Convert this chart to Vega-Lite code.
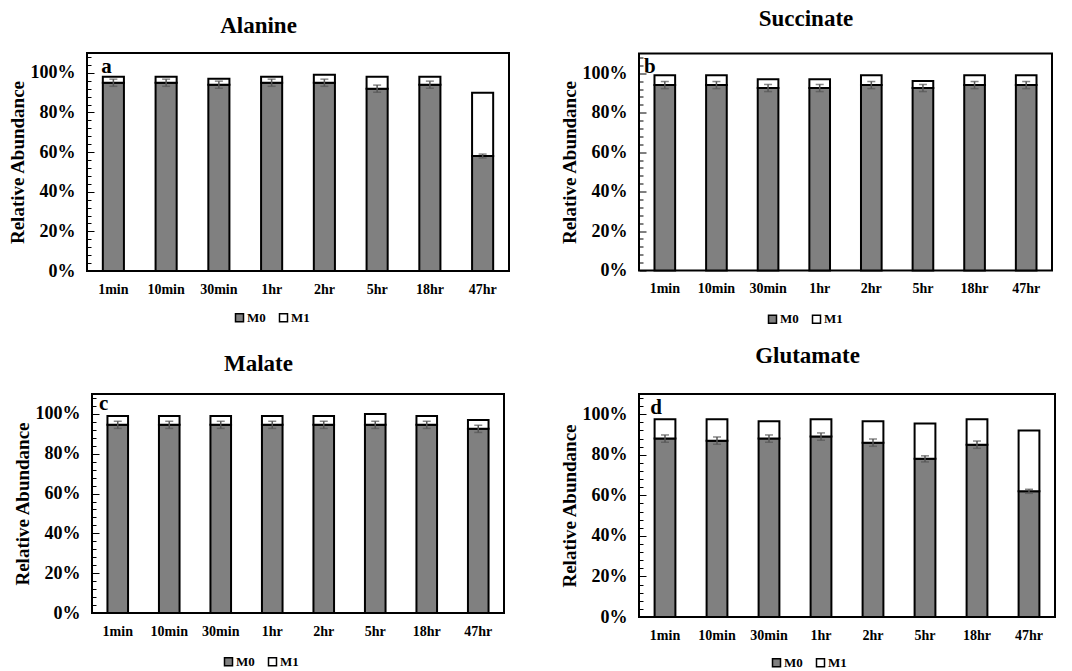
{
  "$schema": "https://vega.github.io/schema/vega-lite/v6.json",
  "background": "white",
  "padding": {"left": 7, "top": 6, "right": 5, "bottom": 3},
  "datasets": {
    "bars": [
      {"met":"Alanine","time":"1min","iso":"M0","v":0.95},{"met":"Alanine","time":"1min","iso":"M1","v":0.03},
      {"met":"Alanine","time":"10min","iso":"M0","v":0.95},{"met":"Alanine","time":"10min","iso":"M1","v":0.03},
      {"met":"Alanine","time":"30min","iso":"M0","v":0.94},{"met":"Alanine","time":"30min","iso":"M1","v":0.03},
      {"met":"Alanine","time":"1hr","iso":"M0","v":0.95},{"met":"Alanine","time":"1hr","iso":"M1","v":0.03},
      {"met":"Alanine","time":"2hr","iso":"M0","v":0.95},{"met":"Alanine","time":"2hr","iso":"M1","v":0.04},
      {"met":"Alanine","time":"5hr","iso":"M0","v":0.92},{"met":"Alanine","time":"5hr","iso":"M1","v":0.06},
      {"met":"Alanine","time":"18hr","iso":"M0","v":0.94},{"met":"Alanine","time":"18hr","iso":"M1","v":0.04},
      {"met":"Alanine","time":"47hr","iso":"M0","v":0.58},{"met":"Alanine","time":"47hr","iso":"M1","v":0.32},
      {"met":"Succinate","time":"1min","iso":"M0","v":0.94},{"met":"Succinate","time":"1min","iso":"M1","v":0.05},
      {"met":"Succinate","time":"10min","iso":"M0","v":0.94},{"met":"Succinate","time":"10min","iso":"M1","v":0.05},
      {"met":"Succinate","time":"30min","iso":"M0","v":0.925},{"met":"Succinate","time":"30min","iso":"M1","v":0.045},
      {"met":"Succinate","time":"1hr","iso":"M0","v":0.925},{"met":"Succinate","time":"1hr","iso":"M1","v":0.045},
      {"met":"Succinate","time":"2hr","iso":"M0","v":0.94},{"met":"Succinate","time":"2hr","iso":"M1","v":0.05},
      {"met":"Succinate","time":"5hr","iso":"M0","v":0.925},{"met":"Succinate","time":"5hr","iso":"M1","v":0.035},
      {"met":"Succinate","time":"18hr","iso":"M0","v":0.94},{"met":"Succinate","time":"18hr","iso":"M1","v":0.05},
      {"met":"Succinate","time":"47hr","iso":"M0","v":0.94},{"met":"Succinate","time":"47hr","iso":"M1","v":0.05},
      {"met":"Malate","time":"1min","iso":"M0","v":0.945},{"met":"Malate","time":"1min","iso":"M1","v":0.045},
      {"met":"Malate","time":"10min","iso":"M0","v":0.945},{"met":"Malate","time":"10min","iso":"M1","v":0.045},
      {"met":"Malate","time":"30min","iso":"M0","v":0.945},{"met":"Malate","time":"30min","iso":"M1","v":0.045},
      {"met":"Malate","time":"1hr","iso":"M0","v":0.945},{"met":"Malate","time":"1hr","iso":"M1","v":0.045},
      {"met":"Malate","time":"2hr","iso":"M0","v":0.945},{"met":"Malate","time":"2hr","iso":"M1","v":0.045},
      {"met":"Malate","time":"5hr","iso":"M0","v":0.945},{"met":"Malate","time":"5hr","iso":"M1","v":0.055},
      {"met":"Malate","time":"18hr","iso":"M0","v":0.945},{"met":"Malate","time":"18hr","iso":"M1","v":0.045},
      {"met":"Malate","time":"47hr","iso":"M0","v":0.925},{"met":"Malate","time":"47hr","iso":"M1","v":0.045},
      {"met":"Glutamate","time":"1min","iso":"M0","v":0.88},{"met":"Glutamate","time":"1min","iso":"M1","v":0.095},
      {"met":"Glutamate","time":"10min","iso":"M0","v":0.87},{"met":"Glutamate","time":"10min","iso":"M1","v":0.105},
      {"met":"Glutamate","time":"30min","iso":"M0","v":0.88},{"met":"Glutamate","time":"30min","iso":"M1","v":0.085},
      {"met":"Glutamate","time":"1hr","iso":"M0","v":0.89},{"met":"Glutamate","time":"1hr","iso":"M1","v":0.085},
      {"met":"Glutamate","time":"2hr","iso":"M0","v":0.86},{"met":"Glutamate","time":"2hr","iso":"M1","v":0.105},
      {"met":"Glutamate","time":"5hr","iso":"M0","v":0.78},{"met":"Glutamate","time":"5hr","iso":"M1","v":0.175},
      {"met":"Glutamate","time":"18hr","iso":"M0","v":0.85},{"met":"Glutamate","time":"18hr","iso":"M1","v":0.125},
      {"met":"Glutamate","time":"47hr","iso":"M0","v":0.62},{"met":"Glutamate","time":"47hr","iso":"M1","v":0.30}
    ],
    "errs": [
      {"met":"Alanine","time":"1min","lo":0.932,"hi":0.968},{"met":"Alanine","time":"10min","lo":0.932,"hi":0.968},
      {"met":"Alanine","time":"30min","lo":0.922,"hi":0.958},{"met":"Alanine","time":"1hr","lo":0.932,"hi":0.968},
      {"met":"Alanine","time":"2hr","lo":0.932,"hi":0.968},{"met":"Alanine","time":"5hr","lo":0.902,"hi":0.938},
      {"met":"Alanine","time":"18hr","lo":0.922,"hi":0.958},{"met":"Alanine","time":"47hr","lo":0.57,"hi":0.59},
      {"met":"Succinate","time":"1min","lo":0.922,"hi":0.958},{"met":"Succinate","time":"10min","lo":0.922,"hi":0.958},
      {"met":"Succinate","time":"30min","lo":0.907,"hi":0.943},{"met":"Succinate","time":"1hr","lo":0.907,"hi":0.943},
      {"met":"Succinate","time":"2hr","lo":0.922,"hi":0.958},{"met":"Succinate","time":"5hr","lo":0.907,"hi":0.943},
      {"met":"Succinate","time":"18hr","lo":0.922,"hi":0.958},{"met":"Succinate","time":"47hr","lo":0.922,"hi":0.958},
      {"met":"Malate","time":"1min","lo":0.927,"hi":0.963},{"met":"Malate","time":"10min","lo":0.927,"hi":0.963},
      {"met":"Malate","time":"30min","lo":0.927,"hi":0.963},{"met":"Malate","time":"1hr","lo":0.927,"hi":0.963},
      {"met":"Malate","time":"2hr","lo":0.927,"hi":0.963},{"met":"Malate","time":"5hr","lo":0.927,"hi":0.963},
      {"met":"Malate","time":"18hr","lo":0.927,"hi":0.963},{"met":"Malate","time":"47hr","lo":0.907,"hi":0.943},
      {"met":"Glutamate","time":"1min","lo":0.862,"hi":0.898},{"met":"Glutamate","time":"10min","lo":0.852,"hi":0.888},
      {"met":"Glutamate","time":"30min","lo":0.862,"hi":0.898},{"met":"Glutamate","time":"1hr","lo":0.872,"hi":0.908},
      {"met":"Glutamate","time":"2hr","lo":0.842,"hi":0.878},{"met":"Glutamate","time":"5hr","lo":0.765,"hi":0.795},
      {"met":"Glutamate","time":"18hr","lo":0.832,"hi":0.868},{"met":"Glutamate","time":"47hr","lo":0.61,"hi":0.63}
    ]
  },
  "bounds": "flush",
  "center": true,
  "columns": 2,
  "spacing": {"row": 123, "column": 130},
  "resolve": {"scale": {"color": "independent"}, "legend": {"color": "independent"}},
  "concat": [
    {
      "width": 422, "height": 218,
      "title": {"text": "Alanine", "frame": "bounds", "anchor": "middle", "offset": 15, "font": "Liberation Serif", "fontSize": 23, "fontWeight": "bold", "color": "black"},
      "resolve": {"axis": {"y": "independent"}},
      "layer": [
        {
          "data": {"name": "bars"},
          "transform": [{"filter": "datum.met === 'Alanine'"}],
          "mark": {"type": "bar", "stroke": "black", "strokeWidth": 2},
          "encoding": {
            "x": {"field": "time", "type": "nominal", "sort": ["1min","10min","30min","1hr","2hr","5hr","18hr","47hr"],
              "scale": {"domain": ["1min","10min","30min","1hr","2hr","5hr","18hr","47hr"], "paddingInner": 0.6, "paddingOuter": 0.3},
              "axis": {"title": null, "labelAngle": 0, "ticks": false, "domain": false, "labelFont": "Liberation Serif", "labelFontSize": 14, "labelFontWeight": "bold", "labelColor": "black", "labelPadding": 11}},
            "y": {"field": "v", "type": "quantitative", "stack": "zero",
              "scale": {"domain": [0, 1.1], "nice": false, "zero": true},
              "axis": {"title": "Relative Abundance", "titleFont": "Liberation Serif", "titleFontSize": 19, "titleFontWeight": "bold", "titleColor": "black", "titlePadding": 3,
                "values": [0,0.2,0.4,0.6,0.8,1], "format": ".0%",
                "labelFont": "Liberation Serif", "labelFontSize": 18, "labelFontWeight": "bold", "labelColor": "black", "labelPadding": 19,
                "tickSize": -7, "tickColor": "black", "tickWidth": 1, "domain": false, "grid": false}},
            "color": {"field": "iso", "type": "nominal", "scale": {"domain": ["M0","M1"], "range": ["#808080","#ffffff"]},
              "legend": {"orient": "none", "legendX": 146, "legendY": 258, "direction": "horizontal", "title": null, "symbolType": "square", "symbolSize": 64, "symbolStrokeColor": "black", "symbolStrokeWidth": 1.5, "labelFont": "Liberation Serif", "labelFontSize": 13, "labelFontWeight": "bold", "labelColor": "black", "labelOffset": 1, "columnPadding": 10}},
            "order": {"field": "iso", "sort": "ascending"}
          }
        },
        {
          "data": {"name": "errs"},
          "transform": [{"filter": "datum.met === 'Alanine'"}],
          "mark": {"type": "errorbar", "ticks": {"size": 8}, "color": "#555555", "thickness": 1.5},
          "encoding": {
            "x": {"field": "time", "type": "nominal", "sort": ["1min","10min","30min","1hr","2hr","5hr","18hr","47hr"]},
            "y": {"field": "lo", "type": "quantitative",
              "axis": {"orient": "left", "title": null, "labels": false, "values": [0.04,0.08,0.12,0.16,0.24,0.28,0.32,0.36,0.44,0.48,0.52,0.56,0.64,0.68,0.72,0.76,0.84,0.88,0.92,0.96,1.04,1.08], "tickSize": -4, "tickColor": "black", "tickWidth": 1, "domain": false, "grid": false}},
            "y2": {"field": "hi"}
          }
        },
        {
          "data": {"values": [{"lab": "a"}]},
          "mark": {"type": "text", "align": "center", "baseline": "alphabetic", "font": "Liberation Serif", "fontSize": 21, "fontWeight": "bold", "color": "black", "dx": -7},
          "encoding": {
            "x": {"datum": "1min", "type": "nominal"},
            "y": {"datum": 1.0, "type": "quantitative", "axis": null},
            "text": {"field": "lab"}
          }
        }
      ]
    },
    {
      "width": 413, "height": 217,
      "title": {"text": "Succinate", "frame": "bounds", "anchor": "middle", "offset": 23, "font": "Liberation Serif", "fontSize": 23, "fontWeight": "bold", "color": "black"},
      "resolve": {"axis": {"y": "independent"}},
      "layer": [
        {
          "data": {"name": "bars"},
          "transform": [{"filter": "datum.met === 'Succinate'"}],
          "mark": {"type": "bar", "stroke": "black", "strokeWidth": 2},
          "encoding": {
            "x": {"field": "time", "type": "nominal", "sort": ["1min","10min","30min","1hr","2hr","5hr","18hr","47hr"],
              "scale": {"domain": ["1min","10min","30min","1hr","2hr","5hr","18hr","47hr"], "paddingInner": 0.6, "paddingOuter": 0.3},
              "axis": {"title": null, "labelAngle": 0, "ticks": false, "domain": false, "labelFont": "Liberation Serif", "labelFontSize": 14, "labelFontWeight": "bold", "labelColor": "black", "labelPadding": 11}},
            "y": {"field": "v", "type": "quantitative", "stack": "zero",
              "scale": {"domain": [0, 1.1], "nice": false, "zero": true},
              "axis": {"title": "Relative Abundance", "titleFont": "Liberation Serif", "titleFontSize": 19, "titleFontWeight": "bold", "titleColor": "black", "titlePadding": 3,
                "values": [0,0.2,0.4,0.6,0.8,1], "format": ".0%",
                "labelFont": "Liberation Serif", "labelFontSize": 18, "labelFontWeight": "bold", "labelColor": "black", "labelPadding": 19,
                "tickSize": -7, "tickColor": "black", "tickWidth": 1, "domain": false, "grid": false}},
            "color": {"field": "iso", "type": "nominal", "scale": {"domain": ["M0","M1"], "range": ["#808080","#ffffff"]},
              "legend": {"orient": "none", "legendX": 127, "legendY": 259, "direction": "horizontal", "title": null, "symbolType": "square", "symbolSize": 64, "symbolStrokeColor": "black", "symbolStrokeWidth": 1.5, "labelFont": "Liberation Serif", "labelFontSize": 13, "labelFontWeight": "bold", "labelColor": "black", "labelOffset": 1, "columnPadding": 10}},
            "order": {"field": "iso", "sort": "ascending"}
          }
        },
        {
          "data": {"name": "errs"},
          "transform": [{"filter": "datum.met === 'Succinate'"}],
          "mark": {"type": "errorbar", "ticks": {"size": 8}, "color": "#555555", "thickness": 1.5},
          "encoding": {
            "x": {"field": "time", "type": "nominal", "sort": ["1min","10min","30min","1hr","2hr","5hr","18hr","47hr"]},
            "y": {"field": "lo", "type": "quantitative",
              "axis": {"orient": "left", "title": null, "labels": false, "values": [0.04,0.08,0.12,0.16,0.24,0.28,0.32,0.36,0.44,0.48,0.52,0.56,0.64,0.68,0.72,0.76,0.84,0.88,0.92,0.96,1.04,1.08], "tickSize": -4, "tickColor": "black", "tickWidth": 1, "domain": false, "grid": false}},
            "y2": {"field": "hi"}
          }
        },
        {
          "data": {"values": [{"lab": "b"}]},
          "mark": {"type": "text", "align": "center", "baseline": "alphabetic", "font": "Liberation Serif", "fontSize": 21, "fontWeight": "bold", "color": "black", "dx": -15},
          "encoding": {
            "x": {"datum": "1min", "type": "nominal"},
            "y": {"datum": 1.0, "type": "quantitative", "axis": null},
            "text": {"field": "lab"}
          }
        }
      ]
    },
    {
      "width": 412, "height": 219,
      "title": {"text": "Malate", "frame": "bounds", "anchor": "middle", "offset": 17, "font": "Liberation Serif", "fontSize": 23, "fontWeight": "bold", "color": "black"},
      "resolve": {"axis": {"y": "independent"}},
      "layer": [
        {
          "data": {"name": "bars"},
          "transform": [{"filter": "datum.met === 'Malate'"}],
          "mark": {"type": "bar", "stroke": "black", "strokeWidth": 2},
          "encoding": {
            "x": {"field": "time", "type": "nominal", "sort": ["1min","10min","30min","1hr","2hr","5hr","18hr","47hr"],
              "scale": {"domain": ["1min","10min","30min","1hr","2hr","5hr","18hr","47hr"], "paddingInner": 0.6, "paddingOuter": 0.3},
              "axis": {"title": null, "labelAngle": 0, "ticks": false, "domain": false, "labelFont": "Liberation Serif", "labelFontSize": 14, "labelFontWeight": "bold", "labelColor": "black", "labelPadding": 11}},
            "y": {"field": "v", "type": "quantitative", "stack": "zero",
              "scale": {"domain": [0, 1.1], "nice": false, "zero": true},
              "axis": {"title": "Relative Abundance", "titleFont": "Liberation Serif", "titleFontSize": 19, "titleFontWeight": "bold", "titleColor": "black", "titlePadding": 3,
                "values": [0,0.2,0.4,0.6,0.8,1], "format": ".0%",
                "labelFont": "Liberation Serif", "labelFontSize": 18, "labelFontWeight": "bold", "labelColor": "black", "labelPadding": 19,
                "tickSize": -7, "tickColor": "black", "tickWidth": 1, "domain": false, "grid": false}},
            "color": {"field": "iso", "type": "nominal", "scale": {"domain": ["M0","M1"], "range": ["#808080","#ffffff"]},
              "legend": {"orient": "none", "legendX": 130, "legendY": 261, "direction": "horizontal", "title": null, "symbolType": "square", "symbolSize": 64, "symbolStrokeColor": "black", "symbolStrokeWidth": 1.5, "labelFont": "Liberation Serif", "labelFontSize": 13, "labelFontWeight": "bold", "labelColor": "black", "labelOffset": 1, "columnPadding": 10}},
            "order": {"field": "iso", "sort": "ascending"}
          }
        },
        {
          "data": {"name": "errs"},
          "transform": [{"filter": "datum.met === 'Malate'"}],
          "mark": {"type": "errorbar", "ticks": {"size": 8}, "color": "#555555", "thickness": 1.5},
          "encoding": {
            "x": {"field": "time", "type": "nominal", "sort": ["1min","10min","30min","1hr","2hr","5hr","18hr","47hr"]},
            "y": {"field": "lo", "type": "quantitative",
              "axis": {"orient": "left", "title": null, "labels": false, "values": [0.04,0.08,0.12,0.16,0.24,0.28,0.32,0.36,0.44,0.48,0.52,0.56,0.64,0.68,0.72,0.76,0.84,0.88,0.92,0.96,1.04,1.08], "tickSize": -4, "tickColor": "black", "tickWidth": 1, "domain": false, "grid": false}},
            "y2": {"field": "hi"}
          }
        },
        {
          "data": {"values": [{"lab": "c"}]},
          "mark": {"type": "text", "align": "center", "baseline": "alphabetic", "font": "Liberation Serif", "fontSize": 21, "fontWeight": "bold", "color": "black", "dx": -14},
          "encoding": {
            "x": {"datum": "1min", "type": "nominal"},
            "y": {"datum": 1.02, "type": "quantitative", "axis": null},
            "text": {"field": "lab"}
          }
        }
      ]
    },
    {
      "width": 416, "height": 223,
      "title": {"text": "Glutamate", "frame": "bounds", "anchor": "middle", "offset": 26, "font": "Liberation Serif", "fontSize": 23, "fontWeight": "bold", "color": "black"},
      "resolve": {"axis": {"y": "independent"}},
      "layer": [
        {
          "data": {"name": "bars"},
          "transform": [{"filter": "datum.met === 'Glutamate'"}],
          "mark": {"type": "bar", "stroke": "black", "strokeWidth": 2},
          "encoding": {
            "x": {"field": "time", "type": "nominal", "sort": ["1min","10min","30min","1hr","2hr","5hr","18hr","47hr"],
              "scale": {"domain": ["1min","10min","30min","1hr","2hr","5hr","18hr","47hr"], "paddingInner": 0.6, "paddingOuter": 0.3},
              "axis": {"title": null, "labelAngle": 0, "ticks": false, "domain": false, "labelFont": "Liberation Serif", "labelFontSize": 14, "labelFontWeight": "bold", "labelColor": "black", "labelPadding": 11}},
            "y": {"field": "v", "type": "quantitative", "stack": "zero",
              "scale": {"domain": [0, 1.1], "nice": false, "zero": true},
              "axis": {"title": "Relative Abundance", "titleFont": "Liberation Serif", "titleFontSize": 19, "titleFontWeight": "bold", "titleColor": "black", "titlePadding": 3,
                "values": [0,0.2,0.4,0.6,0.8,1], "format": ".0%",
                "labelFont": "Liberation Serif", "labelFontSize": 18, "labelFontWeight": "bold", "labelColor": "black", "labelPadding": 19,
                "tickSize": -7, "tickColor": "black", "tickWidth": 1, "domain": false, "grid": false}},
            "color": {"field": "iso", "type": "nominal", "scale": {"domain": ["M0","M1"], "range": ["#808080","#ffffff"]},
              "legend": {"orient": "none", "legendX": 131, "legendY": 262, "direction": "horizontal", "title": null, "symbolType": "square", "symbolSize": 64, "symbolStrokeColor": "black", "symbolStrokeWidth": 1.5, "labelFont": "Liberation Serif", "labelFontSize": 13, "labelFontWeight": "bold", "labelColor": "black", "labelOffset": 1, "columnPadding": 10}},
            "order": {"field": "iso", "sort": "ascending"}
          }
        },
        {
          "data": {"name": "errs"},
          "transform": [{"filter": "datum.met === 'Glutamate'"}],
          "mark": {"type": "errorbar", "ticks": {"size": 8}, "color": "#555555", "thickness": 1.5},
          "encoding": {
            "x": {"field": "time", "type": "nominal", "sort": ["1min","10min","30min","1hr","2hr","5hr","18hr","47hr"]},
            "y": {"field": "lo", "type": "quantitative",
              "axis": {"orient": "left", "title": null, "labels": false, "values": [0.04,0.08,0.12,0.16,0.24,0.28,0.32,0.36,0.44,0.48,0.52,0.56,0.64,0.68,0.72,0.76,0.84,0.88,0.92,0.96,1.04,1.08], "tickSize": -4, "tickColor": "black", "tickWidth": 1, "domain": false, "grid": false}},
            "y2": {"field": "hi"}
          }
        },
        {
          "data": {"values": [{"lab": "d"}]},
          "mark": {"type": "text", "align": "center", "baseline": "alphabetic", "font": "Liberation Serif", "fontSize": 21, "fontWeight": "bold", "color": "black", "dx": -9},
          "encoding": {
            "x": {"datum": "1min", "type": "nominal"},
            "y": {"datum": 1.0, "type": "quantitative", "axis": null},
            "text": {"field": "lab"}
          }
        }
      ]
    }
  ],
  "config": {
    "view": {"stroke": "black", "strokeWidth": 2},
    "font": "Liberation Serif"
  }
}
